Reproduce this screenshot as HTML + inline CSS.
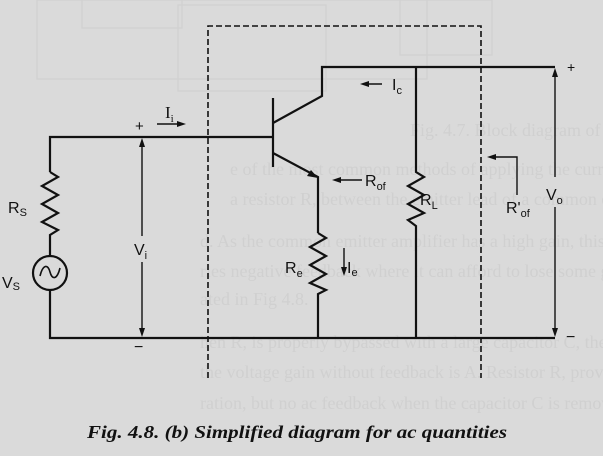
<!DOCTYPE html>
<html><head><meta charset="utf-8"><style>
html,body{margin:0;padding:0;background:#dadada;}
svg{display:block;}
</style></head><body>
<svg width="603" height="456" viewBox="0 0 603 456" xmlns="http://www.w3.org/2000/svg" font-family="Liberation Sans, sans-serif">
<rect width="603" height="456" fill="#dadada"/>
<g fill="none" stroke="#d1d1d1" stroke-width="1.2">
<rect x="37" y="0" width="390" height="79"/>
<rect x="82" y="0" width="100" height="28"/>
<rect x="178" y="5" width="148" height="86"/>
<rect x="400" y="0" width="92" height="55"/>
</g>
<g fill="#d0d0d0" font-family="Liberation Serif, serif" font-size="18">
<text x="410" y="136">Fig. 4.7. Block diagram of the current-series feedback</text>
<text x="230" y="175">e of the most common methods of applying the current series</text>
<text x="230" y="205">a resistor R, between the emitter lead of a common emitter</text>
<text x="200" y="247">d. As the common emitter amplifier has a high gain, this is the</text>
<text x="200" y="277">ries negative feedback where it can afford to lose some gain</text>
<text x="200" y="305">ated in Fig 4.8.</text>
<text x="200" y="348">hen R, is properly bypassed with a large capacitor C, the output</text>
<text x="200" y="378">the voltage gain without feedback is A. Resistor R, provides</text>
<text x="200" y="409">ration, but no ac feedback when the capacitor C is removed.</text>
</g>
<g fill="none" stroke="#111" stroke-width="1.6" stroke-dasharray="6,3">
<polyline points="208,378 208,26 481,26 481,378"/>
</g>
<g fill="none" stroke="#111" stroke-width="2.2">
<polyline points="555,67 322,67 322,96 273,123"/>
<line x1="273" y1="98" x2="273" y2="167"/>
<polyline points="50,172 50,137 273,137"/>
<polyline points="273,153 318,177 318,233"/>
<polyline points="318,233 326,238 310,247 326,256 310,265 326,274 310,283 326,290 318,294 318,338"/>
<polyline points="416,67 416,172 424,177 408,186 424,195 408,204 424,213 408,220 416,226 416,338"/>
<polyline points="50,172 58,177 42,186 58,195 42,204 58,213 42,222 58,230 50,235 50,256"/>
<circle cx="50" cy="273" r="17"/>
<path d="M40,276 C43,264 48,264 50,272 C52,280 57,280 60,268" stroke-width="1.6"/>
<polyline points="50,290 50,338 555,338"/>
</g>
<g stroke="#111" stroke-width="1.4" fill="none">
<line x1="142" y1="142" x2="142" y2="236"/>
<line x1="142" y1="262" x2="142" y2="333"/>
<line x1="555" y1="72" x2="555" y2="177"/>
<line x1="555" y1="207" x2="555" y2="333"/>
<line x1="157" y1="124" x2="180" y2="124"/>
<line x1="365" y1="84" x2="382" y2="84"/>
<line x1="337" y1="180" x2="362" y2="180"/>
<polyline points="492,157 517,157 517,195"/>
<line x1="344" y1="248" x2="344" y2="270"/>
</g>
<g fill="#111">
<polygon points="142,138 139,147 145,147"/>
<polygon points="142,337 139,328 145,328"/>
<polygon points="555,68 552,77 558,77"/>
<polygon points="555,337 552,328 558,328"/>
<polygon points="186,124 177,121 177,127"/>
<polygon points="360,84 369,81 369,87"/>
<polygon points="332,180 341,177 341,183"/>
<polygon points="487,157 496,154 496,160"/>
<polygon points="344,276 341,267 347,267"/>
<polygon points="318,178 307,176 311,170"/>
</g>
<g fill="#111" font-size="16">
<text x="135" y="131" font-size="15">+</text>
<text x="134" y="352" font-size="16">−</text>
<text x="567" y="72" font-size="14">+</text>
<text x="566" y="342" font-size="16">−</text>
<text x="165" y="118" font-family="Liberation Serif, serif" font-size="17">I<tspan font-size="11" dy="4">i</tspan></text>
<text x="392" y="90">I<tspan font-size="11" dy="4">c</tspan></text>
<text x="365" y="186">R<tspan font-size="11" dy="4">of</tspan></text>
<text x="420" y="205">R<tspan font-size="11" dy="4">L</tspan></text>
<text x="506" y="213">R'<tspan font-size="11" dy="4">of</tspan></text>
<text x="546" y="200">V<tspan font-size="11" dy="4">o</tspan></text>
<text x="134" y="255">V<tspan font-size="11" dy="4">i</tspan></text>
<text x="8" y="213">R<tspan font-size="11" dy="3">S</tspan></text>
<text x="2" y="288">V<tspan font-size="11" dy="2">S</tspan></text>
<text x="285" y="273">R<tspan font-size="11" dy="4">e</tspan></text>
<text x="347" y="273">I<tspan font-size="11" dy="3">e</tspan></text>
</g>
<text x="87" y="438" font-family="Liberation Serif, serif" font-weight="bold" font-style="italic" font-size="18" fill="#111" textLength="420" lengthAdjust="spacingAndGlyphs">Fig. 4.8. (b) Simplified diagram for ac quantities</text>
</svg>
</body></html>
